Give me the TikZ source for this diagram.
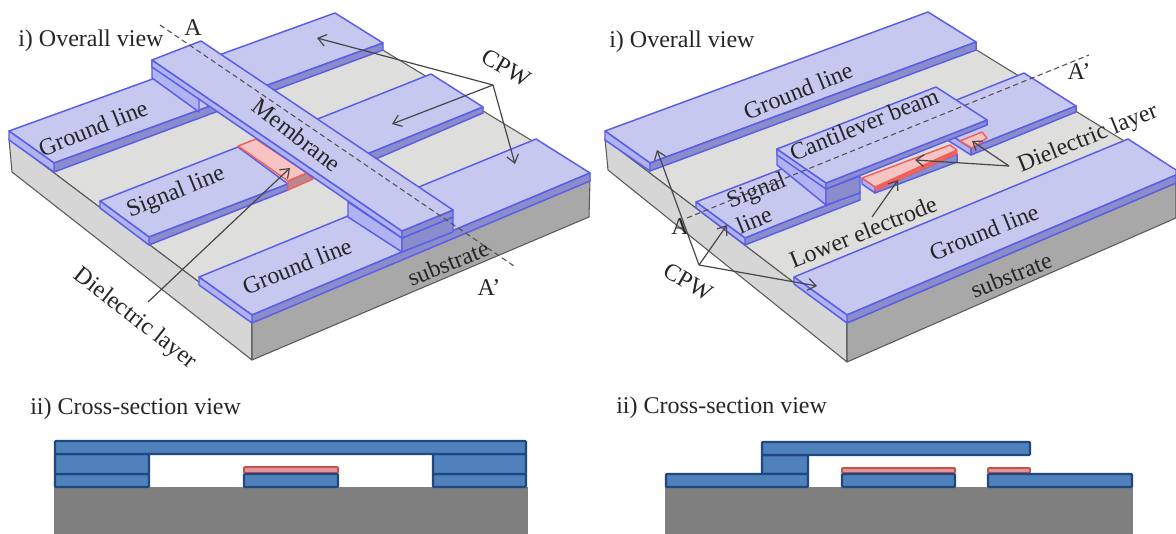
\documentclass[tikz,border=0pt]{standalone}
\usepackage{fontspec}
\setmainfont{Liberation Serif}
\usetikzlibrary{arrows.meta}
\definecolor{edgeblue}{HTML}{5A5EE6}
\definecolor{topblue}{HTML}{C6C8F0}
\definecolor{sideblue}{HTML}{B0B2F2}
\definecolor{frontblue}{HTML}{8A8CCC}
\definecolor{subtop}{HTML}{DEDEDC}
\definecolor{subside}{HTML}{D6D6D6}
\definecolor{subfront}{HTML}{A8A8A8}
\definecolor{subedge}{HTML}{5A5A5A}
\definecolor{pinkfill}{HTML}{F6C4C2}
\definecolor{pinkedge}{HTML}{F0605C}
\definecolor{pinkdark}{HTML}{B88890}
\definecolor{csblue}{HTML}{4F81BD}
\definecolor{csedge}{HTML}{1F497D}
\definecolor{csred}{HTML}{E0959A}
\definecolor{csrededge}{HTML}{C9504D}
\definecolor{csgray}{HTML}{7F7F7F}
\definecolor{inkcol}{HTML}{262626}
\tikzset{
  subtopf/.style={fill=subtop,draw=subedge,line width=0.8pt,line join=round},
  subsidef/.style={fill=subside,draw=subedge,line width=0.8pt,line join=round},
  subfrontf/.style={fill=subfront,draw=subedge,line width=0.8pt,line join=round},
  toppad/.style={fill=topblue,draw=edgeblue,line width=1.1pt,line join=round},
  sidepad/.style={fill=sideblue,draw=edgeblue,line width=1.1pt,line join=round},
  frontpad/.style={fill=frontblue,draw=edgeblue,line width=1.1pt,line join=round},
  pinktop/.style={fill=pinkfill,draw=pinkedge,line width=1.1pt,line join=round},
  pinkfront/.style={fill=pinkdark,draw=pinkedge,line width=1.1pt,line join=round},
  redband/.style={fill=pinkedge,draw=pinkedge,line width=0.4pt},
  lbl/.style={font=\fontsize{18pt}{20pt}\selectfont,text=inkcol,inner sep=0pt},
  rlbl/.style={lbl,rotate=22},
  flbl/.style={lbl,rotate=-38},
  pointer/.style={draw=inkcol!85,line width=0.9pt,-{Straight Barb[length=6pt,width=9pt]}},
  cutline/.style={draw=inkcol!80,line width=0.8pt,dash pattern=on 4pt off 2.6pt},
  csmetal/.style={fill=csblue,draw=csedge,line width=1.6pt,rounded corners=0.6pt},
  csdiel/.style={fill=csred,draw=csrededge,line width=1.3pt,rounded corners=0.6pt},
  cssub/.style={fill=csgray,draw=none},
}
\begin{document}
\begin{tikzpicture}[x=0.75pt,y=-0.75pt]
\useasboundingbox (0,0) rectangle (1176,534);
\fill[white] (0,0) rectangle (1176,534);

%% ------- left 3-D view
\path[subtopf] (9,139) -- (335,21) -- (590,176) -- (252,322) -- cycle;
\path[subsidef] (9,139) -- (12,172) -- (252,360) -- (252,322) -- cycle;
\path[subfrontf] (252,322) -- (590,180) -- (589,217) -- (252,360) -- cycle;
% upper ground
\path[toppad] (9,131) -- (335,13) -- (383,43) -- (54,163) -- cycle;
\path[frontpad] (54,163) -- (383,43) -- (383,50) -- (54,172) -- cycle;
\path[sidepad] (9,131) -- (54,163) -- (54,172) -- (9,140) -- cycle;
% signal, far part
\path[toppad] (290,130) -- (431,74) -- (483,107) -- (340,165) -- cycle;
\path[frontpad] (345,163) -- (483,107) -- (483,113) -- (350,170) -- cycle;
% signal, near part
\path[toppad] (100,201) -- (238,147) -- (288,184) -- (149,237) -- cycle;
\path[frontpad] (149,237) -- (288,184) -- (288,190) -- (149,245) -- cycle;
\path[sidepad] (100,201) -- (149,237) -- (149,245) -- (100,208) -- cycle;
% dielectric
\path[pinktop] (238,146) -- (256,139) -- (307,173) -- (288,181) -- cycle;
\path[pinkfront] (288,181) -- (307,173) -- (313,179) -- (288,190) -- cycle;
% lower ground
\path[toppad] (199,277) -- (536,139) -- (590,173) -- (252,315) -- cycle;
\path[frontpad] (252,315) -- (590,173) -- (590,181) -- (252,323) -- cycle;
\path[sidepad] (199,277) -- (252,315) -- (252,323) -- (199,285) -- cycle;
% membrane
\path[sidepad] (152,60) -- (199,94) -- (199,112) -- (152,78) -- cycle;
\path[sidepad] (348,202) -- (402,238) -- (402,252) -- (348,217) -- cycle;
\path[frontpad] (402,238) -- (453,217) -- (453,232) -- (402,252) -- cycle;
\path[sidepad] (152,60) -- (402,231) -- (402,238) -- (152,67) -- cycle;
\path[frontpad] (402,231) -- (453,210) -- (453,217) -- (402,238) -- cycle;
\path[toppad] (152,60) -- (201,41) -- (453,210) -- (402,231) -- cycle;

% left labels
\node[lbl,anchor=west] (lov) at (18,41) {i) Overall view};
\node[lbl] (la) at (193,28) {A};
\node[lbl] (lap) at (489,288) {A’};
\node[lbl,rotate=-30] (lcpw) at (506,68) {CPW};
\node[rlbl] (lg1) at (93,128) {Ground line};
\node[flbl] (lmem) at (297,135) {Membrane};
\node[rlbl] (lsig) at (176,193) {Signal line};
\node[rlbl] (lg2) at (297,266) {Ground line};
\node[rlbl] (lsub) at (448,263) {substrate};
\node[flbl] (ldl) at (135,319) {Dielectric layer};
% left dashed section line
\coordinate (lcuta) at (160,25);
\coordinate (lcutb) at (514,266);
\draw[cutline] (lcuta) -- (lcutb);
% left pointers
\coordinate (lhub) at (493,85);
\coordinate (lt1) at (317,38);
\coordinate (lt2) at (392,124);
\coordinate (lt3) at (515,164);
\draw[pointer] (lhub) -- (lt1);
\draw[pointer] (lhub) -- (lt2);
\draw[pointer] (lhub) -- (lt3);
\coordinate (ldls) at (148,302);
\coordinate (ldlt) at (290,168);
\draw[pointer] (ldls) -- (ldlt);

%% ------- right 3-D view
\path[subtopf] (605,139) -- (928,20) -- (1176,173) -- (1176,183) -- (847,323) -- cycle;
\path[subsidef] (605,139) -- (608,170) -- (847,362) -- (847,323) -- cycle;
\path[subfrontf] (847,323) -- (1176,183) -- (1176,218) -- (847,362) -- cycle;
% upper ground
\path[toppad] (605,131) -- (928,12) -- (976,42) -- (650,163) -- cycle;
\path[frontpad] (650,163) -- (976,42) -- (976,50) -- (650,171) -- cycle;
\path[sidepad] (605,131) -- (650,163) -- (650,171) -- (605,140) -- cycle;
% far signal pad
\path[sidepad] (919,115) -- (971,148) -- (971,155) -- (919,122) -- cycle;
\path[toppad] (919,115) -- (1024,73) -- (1076,106) -- (971,148) -- cycle;
\path[frontpad] (971,148) -- (1076,106) -- (1076,112) -- (971,155) -- cycle;
\path[pinktop] (960,141) -- (982,132) -- (987,138) -- (972,148) -- cycle;
% lower electrode
\path[sidepad] (862,178) -- (875,187) -- (875,193) -- (862,184) -- cycle;
\path[frontpad] (875,190) -- (957,154) -- (957,162) -- (875,193) -- cycle;
\path[pinktop] (862,178) -- (950,145) -- (957,150) -- (875,187) -- cycle;
\path[redband] (875,187) -- (957,150) -- (957,154) -- (875,191) -- cycle;
% near signal
\path[toppad] (696,202) -- (800,162) -- (860,192) -- (745,238) -- cycle;
\path[frontpad] (745,238) -- (860,192) -- (860,200) -- (745,245) -- cycle;
\path[sidepad] (696,202) -- (745,238) -- (745,245) -- (696,208) -- cycle;
% cantilever
\path[sidepad] (777,149) -- (826,183) -- (826,205) -- (777,165) -- cycle;
\path[frontpad] (826,189) -- (860,176) -- (860,193) -- (826,205) -- cycle;
\path[sidepad] (777,149) -- (826,183) -- (826,189) -- (777,155) -- cycle;
\path[frontpad] (826,183) -- (987,120) -- (987,125) -- (826,189) -- cycle;
\path[toppad] (777,149) -- (936,87) -- (987,120) -- (826,183) -- cycle;
% lower ground
\path[toppad] (794,277) -- (1128,139) -- (1176,170) -- (1176,175) -- (847,315) -- cycle;
\path[frontpad] (847,315) -- (1176,175) -- (1176,183) -- (847,323) -- cycle;
\path[sidepad] (794,277) -- (847,315) -- (847,323) -- (794,284) -- cycle;

% right labels
\node[lbl,anchor=west] (rov) at (609,42) {i) Overall view};
\node[lbl] (ra) at (680,227) {A};
\node[lbl] (rap) at (1079,72) {A’};
\node[lbl,rotate=-30] (rcpw) at (688,282) {CPW};
\node[rlbl] (rg1) at (798,91) {Ground line};
\node[rlbl] (rcb) at (864,124) {Cantilever beam};
\node[rlbl] (rs1) at (757,192) {Signal};
\node[rlbl] (rs2) at (754,220) {line};
\node[rlbl] (rle) at (863,232) {Lower electrode};
\node[rlbl] (rdl) at (1088,139) {Dielectric layer};
\node[rlbl] (rg2) at (984,232) {Ground line};
\node[rlbl] (rsub) at (1011,275) {substrate};
% right dashed section line
\coordinate (rcuta) at (687,218);
\coordinate (rcutb) at (1089,55);
\draw[cutline] (rcuta) -- (rcutb);
% right pointers
\coordinate (rhub) at (699,265);
\coordinate (rt1) at (657,150);
\coordinate (rt2) at (727,225);
\coordinate (rt3) at (817,286);
\draw[pointer] (rhub) -- (rt1);
\draw[pointer] (rhub) -- (rt2);
\draw[pointer] (rhub) -- (rt3);
\coordinate (rdhub) at (1009,166);
\coordinate (rdt1) at (915,160);
\coordinate (rdt2) at (972,141);
\draw[pointer] (rdhub) -- (rdt1);
\draw[pointer] (rdhub) -- (rdt2);
\coordinate (rles) at (872,217);
\coordinate (rlet) at (898,180);
\draw[pointer] (rles) -- (rlet);

%% ------- left cross-section
\node[lbl,anchor=west] (lcs) at (30,409) {ii) Cross-section view};
\path[cssub] (54,487) rectangle (528,534);
\path[csmetal] (55,474) rectangle (149,487);
\path[csmetal] (55,454) rectangle (149,474);
\path[csmetal] (433,474) rectangle (526,487);
\path[csmetal] (433,454) rectangle (526,474);
\path[csdiel] (244,467) rectangle (338,473);
\path[csmetal] (244,474) rectangle (338,487);
\path[csmetal] (55,441) rectangle (526,454);

%% ------- right cross-section
\node[lbl,anchor=west] (rcs) at (616,408) {ii) Cross-section view};
\path[cssub] (665,487) rectangle (1133,534);
\path[csmetal] (762,455) rectangle (808,474);
\path[csmetal] (666,474) rectangle (808,487);
\path[csmetal] (762,442) rectangle (1030,455);
\path[csdiel] (842,468) rectangle (955,473);
\path[csmetal] (842,474) rectangle (955,487);
\path[csdiel] (988,468) rectangle (1030,473);
\path[csmetal] (988,474) rectangle (1132,487);
\end{tikzpicture}
\end{document}
